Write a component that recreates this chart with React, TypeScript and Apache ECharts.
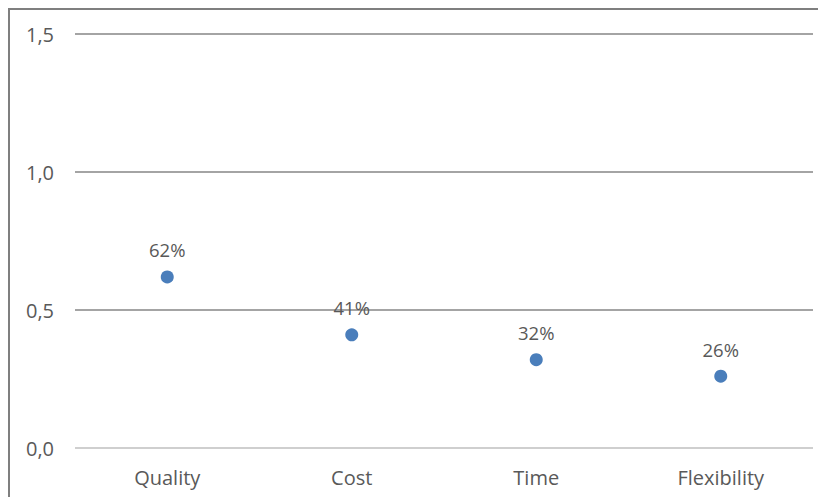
import React, { useEffect, useRef } from "react";
import * as echarts from "echarts";

const categories = ["Quality", "Cost", "Time", "Flexibility"];
const shares = [0.62, 0.41, 0.32, 0.26];
const yTicks = { min: 0, max: 1.5, interval: 0.5 };

export default function App() {
  const ref = useRef<HTMLDivElement>(null);

  useEffect(() => {
    if (!ref.current) return;
    const chart = echarts.init(ref.current, undefined, { renderer: "svg" });
    const font = "'Open Sans', 'Liberation Sans', sans-serif";
    const textColor = "#595959";
    chart.setOption({
      animation: false,
      backgroundColor: "#ffffff",
      grid: { left: 65, right: 13, top: 24, bottom: 49 },
      xAxis: {
        type: "category",
        data: categories,
        axisLine: { show: false },
        axisTick: { show: false },
        axisLabel: { color: textColor, fontSize: 20, fontFamily: font, margin: 19 },
      },
      yAxis: {
        type: "value",
        min: yTicks.min,
        max: yTicks.max,
        interval: yTicks.interval,
        axisLine: { show: false },
        axisTick: { show: false },
        axisLabel: {
          color: textColor,
          fontSize: 20,
          fontFamily: font,
          margin: 21,
          formatter: (v: number) => v.toFixed(1).replace(".", ","),
        },
        splitLine: {
          lineStyle: { color: ["#bfbfbf", "#868686", "#868686", "#868686"], width: 1.5 },
        },
      },
      series: [
        {
          type: "scatter",
          data: shares,
          symbol: "circle",
          symbolSize: 13,
          itemStyle: { color: "#4a7ebb", opacity: 1 },
          label: {
            show: true,
            position: "top",
            distance: 11,
            color: textColor,
            opacity: 1,
            fontSize: 18.5,
            fontFamily: font,
            formatter: (p: any) => Math.round(p.value * 100) + "%",
          },
        },
      ],
    });
    return () => chart.dispose();
  }, []);

  return (
    <div
      style={{
        width: 816,
        height: 487,
        borderLeft: "2px solid #7f7f7f",
        borderTop: "2px solid #7f7f7f",
      }}
    >
      <div ref={ref} style={{ width: 816, height: 487 }} />
    </div>
  );
}
